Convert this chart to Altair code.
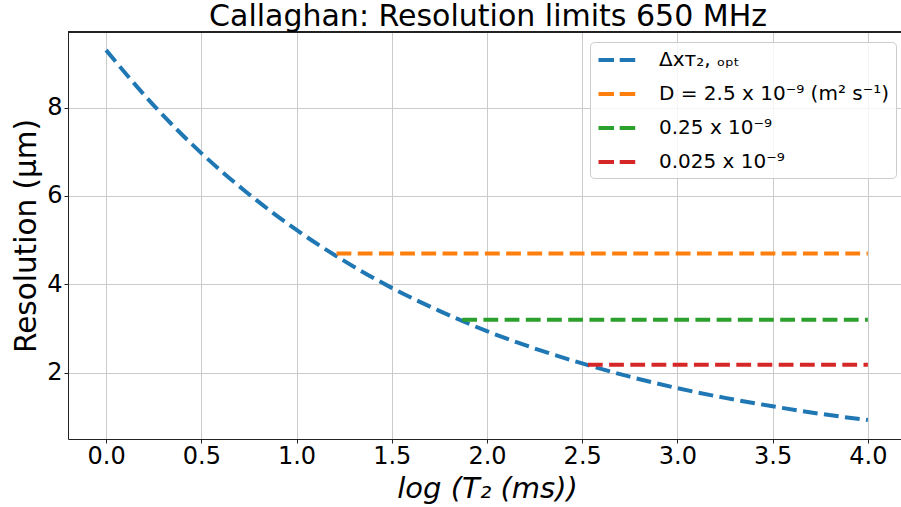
import altair as alt
import pandas as pd

# ---------------- data ----------------
title_text = "Callaghan: Resolution limits 650 MHz"
x_title = "log (T₂ (ms))"
y_title = "Resolution (µm)"

series_names = [
    "Δxᴛ₂, ₒₚₜ",
    "D = 2.5 x 10⁻⁹ (m² s⁻¹)",
    "0.25 x 10⁻⁹",
    "0.025 x 10⁻⁹",
]
series_colors = ["#1f77b4", "#ff7f0e", "#2ca02c", "#d62728"]

curve_x = [0.0, 0.25, 0.5, 0.75, 1.0, 1.25, 1.5, 1.75, 2.0,
           2.25, 2.5, 2.75, 3.0, 3.25, 3.5, 3.75, 4.0]
curve_y = [9.30, 8.05, 6.97, 6.04, 5.23, 4.53, 3.92, 3.40, 2.94,
           2.55, 2.21, 1.91, 1.65, 1.43, 1.24, 1.07, 0.93]

limit_x_start = [1.21, 1.87, 2.53]
limit_x_end = [4.0, 4.0, 4.0]
limit_y = [4.70, 3.20, 2.18]

x_ticks = [0.0, 0.5, 1.0, 1.5, 2.0, 2.5, 3.0, 3.5, 4.0]
y_ticks = [2, 4, 6, 8]

# ---------------- table ----------------
rows = []
for i, (xv, yv) in enumerate(zip(curve_x, curve_y)):
    rows.append({"series": series_names[0], "x": xv, "y": yv, "order": i})
for k in range(3):
    rows.append({"series": series_names[k + 1], "x": limit_x_start[k], "y": limit_y[k], "order": 0})
    rows.append({"series": series_names[k + 1], "x": limit_x_end[k], "y": limit_y[k], "order": 1})
df = pd.DataFrame(rows)

W, H = 833, 407

lines = alt.Chart(df).mark_line(
    strokeWidth=4, strokeDash=[14.8, 6.4], strokeCap="butt", interpolate="monotone"
).encode(
    x=alt.X("x:Q",
            scale=alt.Scale(domain=[-0.2, 4.174], nice=False, zero=False),
            axis=alt.Axis(values=x_ticks, format=".1f", title=x_title,
                          tickSize=4, labelPadding=1, labelFontSize=24,
                          titleFontSize=29, titleFontStyle="italic",
                          titleFontWeight="normal",
                          titleX=419, titleY=58, titleAlign="center",
                          titleBaseline="alphabetic")),
    y=alt.Y("y:Q",
            scale=alt.Scale(domain=[0.5, 9.71], nice=False, zero=False),
            axis=alt.Axis(values=y_ticks, format="d", title=y_title,
                          tickSize=4, labelPadding=2, labelFontSize=24,
                          titleFontSize=29.5, titleFontWeight="normal",
                          titleAngle=-90, titleX=-33, titleY=203.5,
                          titleAlign="center", titleBaseline="alphabetic")),
    color=alt.Color("series:N",
                    scale=alt.Scale(domain=series_names, range=series_colors),
                    legend=alt.Legend(
                        orient="none", legendX=522, legendY=10, title=None,
                        symbolType="M-0.95,0H2.75", symbolSize=400,
                        symbolStrokeWidth=4, symbolDash=[15.5, 5.7],
                        labelFontSize=20, labelColor="black", labelOffset=39,
                        labelLimit=0, padding=6, rowPadding=12,
                        fillColor="rgba(255,255,255,0.8)",
                        strokeColor="#cccccc", cornerRadius=4)),
    detail="series:N",
    order="order:Q",
)

top_spine = alt.Chart(df).mark_rule(color="#222222", strokeWidth=1).encode(
    x=alt.value(0), x2=alt.value(W), y=alt.value(0)
)

chart = alt.layer(lines, top_spine).properties(
    width=W, height=H,
    padding={"left": 68, "top": 32, "right": 0, "bottom": 68},
    autosize=alt.AutoSizeParams(type="none"),
    title=alt.TitleParams(title_text, fontSize=30, fontWeight="normal",
                          color="black", anchor="middle", frame="group",
                          baseline="bottom", offset=-30, dx=3.5),
).configure(
    font="DejaVu Sans"
).configure_view(
    stroke=None
).configure_axis(
    gridColor="#cbcbcb", gridWidth=1, domainColor="#222222", domainWidth=1,
    tickColor="#222222", tickWidth=1, labelColor="black", titleColor="black",
    labelFont="DejaVu Sans", titleFont="DejaVu Sans"
).configure_legend(
    labelFont="DejaVu Sans"
)

chart.save("out.html", embed_options={"renderer": "svg", "actions": False})
